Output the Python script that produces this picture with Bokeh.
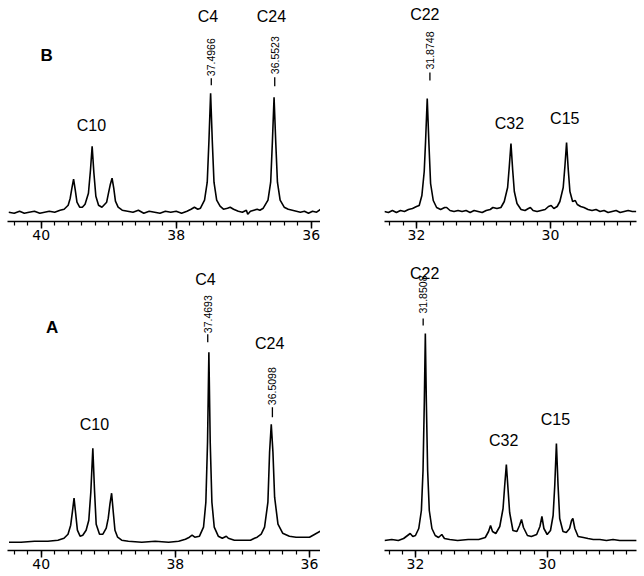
import numpy as np
from bokeh.plotting import figure
from bokeh.models import Range1d, FixedTicker, Spacer
from bokeh.layouts import row, column
from bokeh.core.properties import value
from bokeh.embed import file_html
from bokeh.resources import INLINE

# ---------------- data (chemical shift ppm, intensity) -------------
# Spectrum B, left window (40.5 - 35.9 ppm)
B_LEFT = [
    (40.48, 0), (40.40, -1), (40.32, 1), (40.25, -1), (40.18, 0), (40.10, 1), (40.02, -1),
    (39.95, 0), (39.88, 1), (39.80, 0), (39.72, 2), (39.66, 3), (39.60, 7), (39.57, 14),
    (39.545, 24), (39.52, 33), (39.495, 22), (39.47, 10), (39.43, 5), (39.39, 5), (39.35, 8),
    (39.30, 19), (39.27, 42), (39.245, 66), (39.22, 40), (39.19, 16), (39.15, 7), (39.10, 5),
    (39.03, 10), (39.00, 20), (38.975, 28), (38.95, 34), (38.925, 24), (38.90, 11),
    (38.86, 5), (38.80, 2), (38.72, 1), (38.64, 0), (38.56, 2), (38.48, -1), (38.40, 1),
    (38.32, 0), (38.24, -1), (38.16, 1), (38.08, 0), (38.00, 1), (37.92, -1), (37.84, 1),
    (37.78, 3), (37.73, 5), (37.68, 3), (37.64, 4), (37.58, 12), (37.54, 30), (37.515, 71),
    (37.49, 119), (37.465, 71), (37.44, 30), (37.40, 12), (37.35, 6), (37.30, 3),
    (37.24, 4), (37.20, 5), (37.15, 3), (37.08, 1), (37.02, 0), (36.96, 2), (36.94, -2),
    (36.90, 1), (36.85, 2), (36.80, 3), (36.76, 2), (36.71, 4), (36.64, 12), (36.60, 30),
    (36.575, 70), (36.55, 115), (36.525, 70), (36.50, 30), (36.46, 12), (36.40, 5),
    (36.34, 3), (36.28, 2), (36.22, 1), (36.16, 0), (36.10, 1), (36.04, -1), (35.98, 1),
    (35.92, 0), (35.86, 3),
]
# Spectrum B, right window (32.5 - 28.7 ppm)
B_RIGHT = [
    (32.48, 0), (32.42, -1), (32.36, 1), (32.30, -1), (32.24, 1), (32.18, 0), (32.12, 2),
    (32.06, 3), (32.00, 5), (31.96, 6), (31.92, 16), (31.885, 40), (31.865, 70),
    (31.84, 113), (31.815, 68), (31.79, 28), (31.75, 11), (31.70, 4), (31.64, 2),
    (31.58, 4), (31.55, 4), (31.50, 1), (31.44, 0), (31.38, 1), (31.32, 0), (31.26, 1),
    (31.20, -1), (31.14, 1), (31.08, 0), (31.02, -1), (30.96, 1), (30.90, 2), (30.86, 4),
    (30.80, 3), (30.74, 4), (30.69, 10), (30.64, 24), (30.615, 45), (30.59, 68),
    (30.565, 42), (30.54, 20), (30.50, 8), (30.44, 2), (30.38, 1), (30.33, 3), (30.30, 4),
    (30.26, 1), (30.20, 0), (30.14, 1), (30.08, 2), (30.03, 5), (29.99, 6), (29.95, 3),
    (29.90, 5), (29.86, 10), (29.81, 24), (29.785, 45), (29.76, 69), (29.735, 42),
    (29.71, 20), (29.67, 10), (29.63, 11), (29.60, 7), (29.55, 5), (29.50, 4), (29.44, 2),
    (29.38, 1), (29.32, 2), (29.26, 0), (29.20, 1), (29.14, -1), (29.08, 0), (29.02, 1),
    (28.96, -1), (28.90, 0), (28.84, 1), (28.78, 0), (28.72, 0),
]
# Spectrum A, left window
A_LEFT = [
    (40.48, 0), (40.30, 0), (40.10, 1), (39.90, 1), (39.75, 2), (39.66, 4), (39.60, 8),
    (39.56, 17), (39.535, 30), (39.51, 44), (39.485, 28), (39.46, 12), (39.42, 6),
    (39.38, 7), (39.33, 12), (39.29, 22), (39.26, 50), (39.23, 94), (39.205, 52),
    (39.18, 18), (39.13, 8), (39.08, 8), (39.03, 14), (39.00, 24), (38.975, 38),
    (38.95, 49), (38.925, 30), (38.90, 12), (38.86, 5), (38.80, 2), (38.70, 1), (38.50, 0),
    (38.30, 1), (38.10, 0), (37.95, 1), (37.85, 3), (37.79, 5), (37.75, 7), (37.71, 5),
    (37.64, 6), (37.58, 15), (37.545, 40), (37.52, 100), (37.50, 190), (37.48, 100),
    (37.455, 40), (37.42, 15), (37.36, 6), (37.30, 4), (37.27, 5), (37.24, 6), (37.21, 4),
    (37.12, 2), (37.00, 2), (36.88, 2), (36.82, 4), (36.78, 5), (36.72, 8), (36.67, 15),
    (36.62, 40), (36.595, 90), (36.57, 118), (36.545, 90), (36.52, 45), (36.47, 18),
    (36.40, 9), (36.30, 6), (36.20, 5), (36.10, 5), (36.00, 5), (35.92, 8), (35.84, 11),
]
# Spectrum A, right window
A_RIGHT = [
    (32.47, 0), (32.36, 1), (32.26, 0), (32.18, 2), (32.12, 5), (32.08, 7), (32.04, 4),
    (32.00, 5), (31.95, 12), (31.91, 30), (31.885, 70), (31.865, 140), (31.85, 207),
    (31.835, 140), (31.815, 70), (31.79, 30), (31.75, 12), (31.70, 5), (31.65, 3),
    (31.60, 6), (31.56, 2), (31.48, 1), (31.36, 0), (31.20, 1), (31.04, 1), (30.94, 3),
    (30.89, 9), (30.86, 15), (30.83, 9), (30.78, 7), (30.72, 14), (30.67, 32), (30.645, 55),
    (30.62, 76), (30.595, 52), (30.57, 28), (30.52, 10), (30.46, 9), (30.42, 15),
    (30.39, 21), (30.36, 13), (30.30, 5), (30.24, 4), (30.16, 6), (30.11, 14), (30.08, 24),
    (30.05, 12), (30.00, 6), (29.95, 10), (29.91, 25), (29.885, 55), (29.86, 97),
    (29.835, 55), (29.81, 22), (29.76, 9), (29.71, 8), (29.66, 12), (29.63, 20),
    (29.61, 22), (29.58, 12), (29.53, 4), (29.45, 3), (29.38, 2), (29.30, 1), (29.20, 1),
    (29.10, 0), (29.00, 1), (28.90, 0), (28.80, 0), (28.64, 0),
]

# Carbon assignment labels: (text, ppm, intensity level)
B_LEFT_LABELS = [("C10", 39.255, 87), ("C4", 37.53, 196), ("C24", 36.59, 196)]
B_RIGHT_LABELS = [("C22", 31.876, 197), ("C32", 30.612, 88), ("C15", 29.787, 93)]
A_LEFT_LABELS = [("C10", 39.206, 118), ("C4", 37.55, 263), ("C24", 36.593, 199)]
A_RIGHT_LABELS = [("C22", 31.859, 267), ("C32", 30.66, 100), ("C15", 29.874, 121)]

# Printed peak shifts: (text, ppm, dash low, dash high, text centre)
B_LEFT_SHIFTS = [("37.4966", 37.48, 127, 134, 155), ("36.5523", 36.54, 126, 135, 157)]
B_RIGHT_SHIFTS = [("31.8748", 31.80, 131, 139, 161)]
A_LEFT_SHIFTS = [("37.4693", 37.517, 200, 208, 228), ("36.5098", 36.553, 125, 135, 156)]
A_RIGHT_SHIFTS = [("31.8508", 31.883, 215, 222, 246)]

LEFT_MAJOR = [40, 38, 36]
RIGHT_MAJOR = [32, 30]

# ---------------- drawing -------------------------------------------------------------
FONT = "Liberation Sans"


def panel(pts, labels, shifts, xr, yr, w, h, major, minor_lo, minor_hi, bb, bl, br,
          letter=None):
    p = figure(width=w, height=h, x_range=Range1d(*xr), y_range=Range1d(*yr),
               output_backend="svg", toolbar_location=None, y_axis_location=None,
               min_border_left=bl, min_border_right=br, min_border_top=0,
               min_border_bottom=bb)
    p.grid.visible = False
    p.outline_line_color = None
    xs = [a for a, _ in pts]
    ys = [b for _, b in pts]
    p.line(xs, ys, line_color="black", line_width=1.6)

    p.text(x=[l[1] for l in labels], y=[l[2] for l in labels], text=[l[0] for l in labels],
           text_font=value(FONT), text_font_size=value("16px"), text_color="black",
           text_align="center", text_baseline="middle")
    p.text(x=[s[1] for s in shifts], y=[s[4] for s in shifts], text=[s[0] for s in shifts],
           angle=np.pi / 2, text_font=value(FONT), text_font_size=value("10.5px"),
           text_color="black", text_align="center", text_baseline="middle")
    p.segment(x0=[s[1] for s in shifts], y0=[s[2] for s in shifts],
              x1=[s[1] for s in shifts], y1=[s[3] for s in shifts],
              line_color="black", line_width=1.3)
    if letter is not None:
        p.text(x=[letter[1]], y=[letter[2]], text=[letter[0]], text_font=value(FONT),
               text_font_size=value("17px"), text_font_style="bold", text_color="black",
               text_align="center", text_baseline="middle")

    ax = p.xaxis[0]
    minor = [round(v, 1) for v in np.arange(minor_lo, minor_hi + 0.001, 0.2)]
    ax.ticker = FixedTicker(ticks=major, minor_ticks=minor)
    ax.major_tick_in = 0
    ax.major_tick_out = 7
    ax.minor_tick_in = 0
    ax.minor_tick_out = 4
    ax.axis_line_width = 1.5
    ax.axis_line_color = "black"
    ax.major_tick_line_width = 1.5
    ax.major_tick_line_color = "black"
    ax.minor_tick_line_width = 1.2
    ax.minor_tick_line_color = "black"
    ax.major_label_text_font = "DejaVu Sans"
    ax.major_label_text_font_size = "14px"
    ax.major_label_text_color = "black"
    ax.major_label_standoff = 1
    return p


TOP_H = 255
BOT_H = 321
LW, RW, GAP = 320, 260, 64

p_bl = panel(B_LEFT, B_LEFT_LABELS, B_LEFT_SHIFTS, (40.499, 35.862), (-9.3, 211.7),
             LW, TOP_H, LEFT_MAJOR, 35.8, 40.4, 34, 7, 0, letter=("B", 39.92, 157))
p_br = panel(B_RIGHT, B_RIGHT_LABELS, B_RIGHT_SHIFTS, (32.478, 28.716), (-10, 211),
             RW, TOP_H, RIGHT_MAJOR, 28.8, 32.4, 34, 0, 8)
p_al = panel(A_LEFT, A_LEFT_LABELS, A_LEFT_SHIFTS, (40.502, 35.836), (-8.3, 286.7),
             LW, BOT_H, LEFT_MAJOR, 35.8, 40.4, 26, 7, 0, letter=("A", 39.836, 215))
p_ar = panel(A_RIGHT, A_RIGHT_LABELS, A_RIGHT_SHIFTS, (32.47, 28.644), (-10, 285),
             RW, BOT_H, RIGHT_MAJOR, 28.8, 32.4, 26, 0, 8)

layout = column(row(p_bl, Spacer(width=GAP, height=TOP_H), p_br),
                row(p_al, Spacer(width=GAP, height=BOT_H), p_ar))

open("out.html", "w").write(file_html(layout, INLINE))
